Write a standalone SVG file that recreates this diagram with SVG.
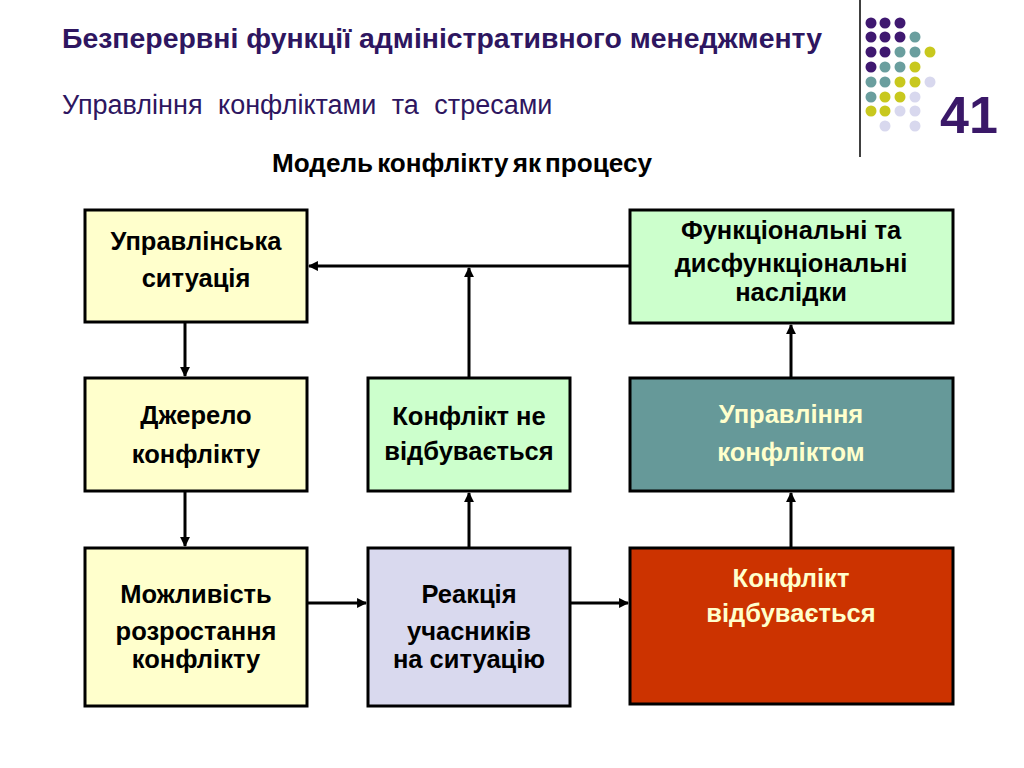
<svg xmlns="http://www.w3.org/2000/svg" width="1024" height="768" viewBox="0 0 1024 768">
<defs>
<style>
.box{stroke:#000;stroke-width:3}
.t{font-family:"Liberation Sans",Arial,sans-serif;font-weight:bold;font-size:25.5px;text-anchor:middle;fill:#000}
.lt{fill:#ffffcc}
.c{stroke:#000;stroke-width:3;fill:none;marker-end:url(#ah)}
.p{fill:#3f1870}.q{fill:#6a9e9e}.y{fill:#c8c81e}.l{fill:#d8d8ee}
</style>
<marker id="ah" viewBox="0 0 10 10" refX="9" refY="5" markerWidth="3.3" markerHeight="3.3" orient="auto" markerUnits="strokeWidth">
<path d="M0,0 L10,5 L0,10 z" fill="#000"/>
</marker>
</defs>
<rect width="1024" height="768" fill="#fff"/>
<g id="header">
<text x="62" y="48" font-family="Liberation Sans,Arial,sans-serif" font-weight="bold" font-size="28" fill="#2e1660" textLength="760" lengthAdjust="spacingAndGlyphs">Безперервні функції адміністративного менеджменту</text>
<text x="62" y="114" font-family="Liberation Sans,Arial,sans-serif" font-size="27" fill="#2e1660" word-spacing="8">Управління конфліктами та стресами</text>
<text x="272" y="172" font-family="Liberation Sans,Arial,sans-serif" font-weight="bold" font-size="25" fill="#000" word-spacing="-3" textLength="380" lengthAdjust="spacingAndGlyphs">Модель конфлікту як процесу</text>
</g>
<g id="decor">
<line x1="860" y1="0" x2="860" y2="157" stroke="#000" stroke-width="1.5"/>
<circle class="p" cx="871" cy="23" r="5.5"/><circle class="p" cx="885" cy="23" r="5.5"/><circle class="p" cx="900" cy="23" r="5.5"/>
<circle class="p" cx="871" cy="37" r="5.5"/><circle class="p" cx="885" cy="37" r="5.5"/><circle class="p" cx="900" cy="37" r="5.5"/><circle class="q" cx="915" cy="37" r="5.5"/>
<circle class="p" cx="871" cy="52" r="5.5"/><circle class="p" cx="885" cy="52" r="5.5"/><circle class="q" cx="900" cy="52" r="5.5"/><circle class="q" cx="915" cy="52" r="5.5"/><circle class="y" cx="930" cy="52" r="5.5"/>
<circle class="p" cx="871" cy="67" r="5.5"/><circle class="q" cx="885" cy="67" r="5.5"/><circle class="q" cx="900" cy="67" r="5.5"/><circle class="y" cx="915" cy="67" r="5.5"/>
<circle class="q" cx="871" cy="82" r="5.5"/><circle class="q" cx="885" cy="82" r="5.5"/><circle class="y" cx="900" cy="82" r="5.5"/><circle class="y" cx="915" cy="82" r="5.5"/><circle class="l" cx="930" cy="82" r="5.5"/>
<circle class="q" cx="871" cy="97" r="5.5"/><circle class="y" cx="885" cy="97" r="5.5"/><circle class="y" cx="900" cy="97" r="5.5"/><circle class="l" cx="915" cy="97" r="5.5"/>
<circle class="y" cx="871" cy="111" r="5.5"/><circle class="y" cx="885" cy="111" r="5.5"/><circle class="l" cx="900" cy="111" r="5.5"/><circle class="l" cx="915" cy="111" r="5.5"/>
<circle class="l" cx="885" cy="126" r="5.5"/><circle class="l" cx="915" cy="126" r="5.5"/>
<text x="969" y="133" font-family="Liberation Sans,Arial,sans-serif" font-weight="bold" font-size="52" text-anchor="middle" fill="#3a1868">41</text>
</g>
<g id="connectors">
<line class="c" x1="630" y1="266" x2="309" y2="266"/>
<line class="c" x1="469" y1="378" x2="469" y2="268"/>
<line class="c" x1="185" y1="322" x2="185" y2="376"/>
<line class="c" x1="185" y1="491" x2="185" y2="546"/>
<line class="c" x1="307" y1="603" x2="366" y2="603"/>
<line class="c" x1="570" y1="603" x2="628" y2="603"/>
<line class="c" x1="469" y1="548" x2="469" y2="493"/>
<line class="c" x1="791" y1="548" x2="791" y2="493"/>
<line class="c" x1="791" y1="378" x2="791" y2="325"/>
</g>
<g id="n1"><rect class="box" x="85" y="210" width="222" height="112" fill="#ffffcc"/>
<text class="t" x="196" y="250">Управлінська</text><text class="t" x="196" y="287">ситуація</text></g>
<g id="n2"><rect class="box" x="85" y="378" width="222" height="113" fill="#ffffcc"/>
<text class="t" x="196" y="424">Джерело</text><text class="t" x="196" y="463">конфлікту</text></g>
<g id="n3"><rect class="box" x="85" y="548" width="222" height="158" fill="#ffffcc"/>
<text class="t" x="196" y="603">Можливість</text><text class="t" x="196" y="640">розростання</text><text class="t" x="196" y="668">конфлікту</text></g>
<g id="n4"><rect class="box" x="368" y="378" width="202" height="113" fill="#ccffcc"/>
<text class="t" x="469" y="425">Конфлікт не</text><text class="t" x="469" y="460">відбувається</text></g>
<g id="n5"><rect class="box" x="368" y="548" width="202" height="158" fill="#d9d9ee"/>
<text class="t" x="469" y="603">Реакція</text><text class="t" x="469" y="640">учасників</text><text class="t" x="469" y="668">на ситуацію</text></g>
<g id="n6"><rect class="box" x="630" y="210" width="323" height="113" fill="#ccffcc"/>
<text class="t" x="791" y="239">Функціональні та</text><text class="t" x="791" y="272">дисфункціональні</text><text class="t" x="791" y="301">наслідки</text></g>
<g id="n7"><rect class="box" x="630" y="378" width="323" height="113" fill="#669999"/>
<text class="t lt" x="791" y="423">Управління</text><text class="t lt" x="791" y="461">конфліктом</text></g>
<g id="n8"><rect class="box" x="630" y="548" width="323" height="156" fill="#cc3300"/>
<text class="t lt" x="791" y="587">Конфлікт</text><text class="t lt" x="791" y="622">відбувається</text></g>
</svg>
